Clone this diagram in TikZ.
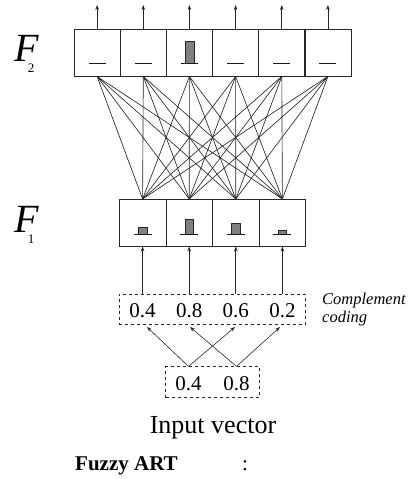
\documentclass[tikz,border=0pt]{standalone}
\usepackage{fontspec}
\setmainfont{Liberation Serif}
\usetikzlibrary{arrows.meta,calc}
\newcommand{\flab}[1]{{\fontsize{40}{40}\selectfont\itshape F}\hspace{-10.7pt}\raisebox{-11pt}{\fontsize{13}{13}\selectfont #1}}
\begin{document}
\begin{tikzpicture}[x=1pt,y=-1pt,
  cell/.style={draw=black!85,line width=0.8pt,inner sep=0pt,minimum width=46.2pt,minimum height=46.7pt},
  link/.style={black!85,line width=0.65pt},
  arr/.style={black!85,line width=0.8pt,-{Stealth[length=5pt,width=3.6pt]}},
  dbox/.style={draw=black!85,dashed,line width=0.8pt,inner sep=0pt},
  num/.style={font=\fontsize{21}{21}\selectfont,inner sep=0pt,anchor=base},
  bar/.style={fill=black!50,draw=black!85,line width=0.6pt},
  base/.style={black!90,line width=0.9pt},
  flabel/.style={anchor=base west,inner sep=0pt},
  note/.style={anchor=base west,inner sep=0pt,text depth=0pt,text height=11pt,font=\fontsize{16.5}{16.5}\selectfont\itshape}]
\useasboundingbox (0,0) rectangle (419,479);
% F2 layer
\foreach \i/\x in {1/97.1,2/143.3,3/189.4,4/235.6,5/281.8,6/327.9}{
  \node[cell] (a\i) at (\x,52.7) {};
  \coordinate (o\i) at (\x,5);
  \draw[arr] (a\i.north) -- (o\i);
}
\foreach \i in {1,2,4,5,6}{
  \draw[base] ($(a\i.center)+(-8.5,10.6)$) -- ($(a\i.center)+(8.5,10.6)$);
}
\draw[bar] ($(a3.center)+(-4.4,10.6)$) rectangle ($(a3.center)+(4.4,-11.4)$);
\draw[base] ($(a3.center)+(-8.5,10.6)$) -- ($(a3.center)+(8.5,10.6)$);
% F1 layer
\foreach \i/\x in {1/142.6,2/189.2,3/235.8,4/282.4}{
  \node[cell,minimum width=46.6pt] (b\i) at (\x,222.7) {};
}
\foreach \i/\h in {1/7,2/15.3,3/10.6,4/3.6}{
  \draw[bar] ($(b\i.center)+(-4.2,11.6)$) rectangle ($(b\i.center)+(4.2,11.6-\h)$);
  \draw[base] ($(b\i.center)+(-9,11.6)$) -- ($(b\i.center)+(9,11.6)$);
}
% full connections
\foreach \i in {1,...,6}{
  \foreach \j in {1,...,4}{
    \draw[link] (a\i.south) -- (b\j.north);
  }
}
% labels F2, F1
\node[flabel] (f2) at (14,61) {\flab{2}};
\node[flabel] (f1) at (14,232) {\flab{1}};
% complement coding box
\node[dbox,minimum width=186.6pt,minimum height=30pt] (cc) at (212.4,309) {};
\node[num] (c1) at (142.6,317) {0.4};
\node[num] (c2) at (189.2,317) {0.8};
\node[num] (c3) at (235.8,317) {0.6};
\node[num] (c4) at (282.4,317) {0.2};
\foreach \i in {1,...,4}{
  \draw[arr] (b\i.south |- cc.north) -- (b\i.south);
}
\node[note] (cl1) at (322,304) {Complement};
\node[note] (cl2) at (322,322) {coding};
% input box
\node[dbox,minimum width=93.6pt,minimum height=31pt] (in) at (212.5,382.3) {};
\node[num] (i1) at (188.5,390) {0.4};
\node[num] (i2) at (236.5,390) {0.8};
\coordinate (t1) at (147,327);
\coordinate (t2) at (190,327);
\coordinate (t3) at (235,327);
\coordinate (t4) at (280,327);
\draw[arr,line width=0.6pt] (i1 |- in.north) -- (t1);
\draw[arr,line width=0.6pt] (i1 |- in.north) -- (t3);
\draw[arr,line width=0.6pt] (i2 |- in.north) -- (t2);
\draw[arr,line width=0.6pt] (i2 |- in.north) -- (t4);
\node[anchor=base,inner sep=0pt,font=\fontsize{26}{26}\selectfont] (iv) at (213,433) {Input vector};
\node[anchor=base west,inner sep=0pt,font=\fontsize{21}{21}\selectfont\bfseries] (fa) at (75,470) {Fuzzy ART};
\node[anchor=base,inner sep=0pt,font=\fontsize{21}{21}\selectfont] (co) at (245,470) {:};
\end{tikzpicture}
\end{document}
